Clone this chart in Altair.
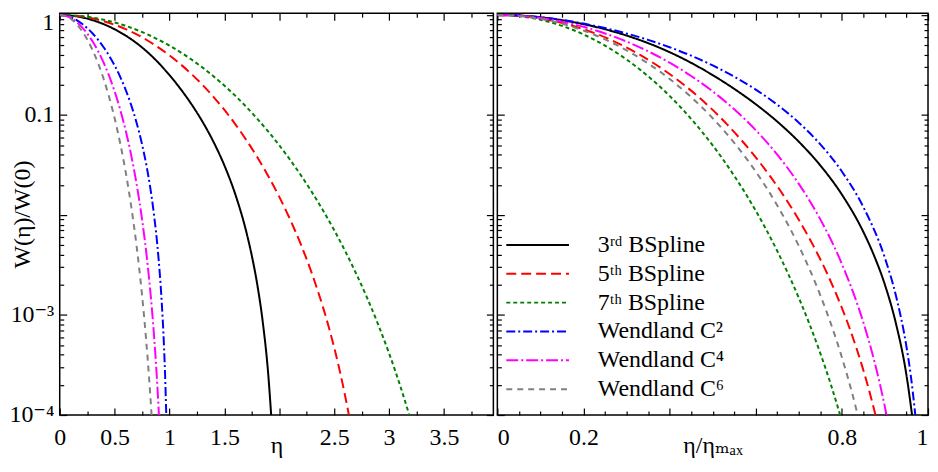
import altair as alt
import pandas as pd

FONT = "Liberation Serif, DejaVu Serif, serif"

SERIES = ["3ʳᵈ BSpline", "5ᵗʰ BSpline", "7ᵗʰ BSpline",
          "Wendland C²", "Wendland C⁴", "Wendland C⁶"]
COLORS = ["#000000", "#ff0000", "#008000", "#0000ff", "#ff00ff", "#808080"]
DASHES = [[1, 0], [10, 5], [4, 3], [9, 3, 2, 3], [12, 3, 2, 3], [6, 5]]

# ---- values (y = W(eta)/W(0)) ----
b3_y = [1, 0.98575, 0.946, 0.88525, 0.808, 0.71875, 0.622, 0.52225, 0.424, 0.33175, 0.25,
        0.18225, 0.128, 0.08575, 0.054, 0.03125, 0.016, 0.00675, 0.0039, 0.002, 0.00084,
        0.00025, 0.0001]
b3_xl = [0, 0.1, 0.2, 0.3, 0.4, 0.5, 0.6, 0.7, 0.8, 0.9, 1.0, 1.1, 1.2, 1.3, 1.4, 1.5, 1.6,
         1.7, 1.75, 1.8, 1.85, 1.9, 1.926]
b3_xr = [0, 0.05, 0.1, 0.15, 0.2, 0.25, 0.3, 0.35, 0.4, 0.45, 0.5, 0.55, 0.6, 0.65, 0.7,
         0.75, 0.8, 0.85, 0.875, 0.9, 0.925, 0.95, 0.963]

b5_y = [1, 0.96431, 0.86463, 0.71985, 0.55472, 0.39394, 0.25651, 0.15181, 0.080558,
        0.037673, 0.024401, 0.015152, 0.0089468, 0.0049648, 0.0025465, 0.0011782,
        0.00076255, 0.00047348, 0.00027959, 0.00015515, 0.0001]
b5_xl = [0, 0.2, 0.4, 0.6, 0.8, 1.0, 1.2, 1.4, 1.6, 1.8, 1.9, 2.0, 2.1, 2.2, 2.3, 2.4, 2.45,
         2.5, 2.55, 2.6, 2.634]
b5_xr = [0, 0.0667, 0.1333, 0.2, 0.2667, 0.3333, 0.4, 0.4667, 0.5333, 0.6, 0.6333, 0.6667,
         0.7, 0.7333, 0.7667, 0.8, 0.8167, 0.8333, 0.85, 0.8667, 0.878]

b7_y = [1, 0.97255, 0.89446, 0.77741, 0.63775, 0.49296, 0.35819, 0.24388, 0.15495,
        0.091379, 0.049669, 0.024646, 0.011018, 0.0043577, 0.0014831, 0.00080659,
        0.00041391, 0.00028905, 0.00019797, 0.0001]
b7_xl = [0, 0.2, 0.4, 0.6, 0.8, 1.0, 1.2, 1.4, 1.6, 1.8, 2.0, 2.2, 2.4, 2.6, 2.8, 2.9, 3.0,
         3.05, 3.1, 3.184]
b7_xr = [0, 0.05, 0.1, 0.15, 0.2, 0.25, 0.3, 0.35, 0.4, 0.45, 0.5, 0.55, 0.6, 0.65, 0.7,
         0.725, 0.75, 0.7625, 0.775, 0.796]

w2_x = [0, 0.05, 0.1, 0.15, 0.2, 0.25, 0.3, 0.35, 0.4, 0.45, 0.5, 0.55, 0.6, 0.65, 0.7,
        0.75, 0.8, 0.85, 0.9, 0.925, 0.95, 0.96, 0.9705]
w2_y = [1, 0.98598, 0.9477, 0.89048, 0.8192, 0.73828, 0.6517, 0.56298, 0.4752, 0.39098,
        0.3125, 0.24148, 0.1792, 0.12648, 0.0837, 0.050781, 0.0272, 0.011981, 0.0037,
        0.0015926, 0.00048125, 0.00024832, 0.0001]

w4_x = [0, 0.05, 0.1, 0.15, 0.2, 0.25, 0.3, 0.35, 0.4, 0.45, 0.5, 0.55, 0.6, 0.65, 0.7,
        0.75, 0.8, 0.85, 0.875, 0.9, 0.9037]
w4_y = [1, 0.9827, 0.93297, 0.85635, 0.76022, 0.65259, 0.54119, 0.43279, 0.33281, 0.2451,
        0.17188, 0.11386, 0.070451, 0.040074, 0.020461, 0.0090332, 0.0032384, 0.00083759,
        0.00035095, 0.0001198, 0.0001]

w6_x = [0, 0.05, 0.1, 0.15, 0.2, 0.25, 0.3, 0.35, 0.4, 0.45, 0.5, 0.55, 0.6, 0.65, 0.7,
        0.75, 0.8, 0.825, 0.8368]
w6_y = [1, 0.97776, 0.91403, 0.81695, 0.69793, 0.56939, 0.44282, 0.32737, 0.2291, 0.15089,
        0.092773, 0.052655, 0.027158, 0.012446, 0.0049017, 0.0015745, 0.00037775,
        0.00015833, 0.0001]

# axis tick values / labels
Y_LABELS = [1, 0.1, 0.001, 0.0001]
Y_TICKS = [m * 10.0 ** e for e in (-4, -3, -2, -1) for m in range(1, 10)] + [1]
XL_LABELS = [0, 0.5, 1, 1.5, 2.5, 3, 3.5]
XL_TICKS = [i * 0.25 for i in range(16)]
XR_LABELS = [0, 0.2, 0.8, 1]
XR_TICKS = [i * 0.05 for i in range(21)]


def frame(pairs):
    rows = []
    for name, xs, ys in pairs:
        for x, y in zip(xs, ys):
            rows.append({"x": x, "y": y, "series": name})
    return pd.DataFrame(rows)


left_df = frame([(SERIES[0], b3_xl, b3_y), (SERIES[1], b5_xl, b5_y), (SERIES[2], b7_xl, b7_y),
                 (SERIES[3], w2_x, w2_y), (SERIES[4], w4_x, w4_y), (SERIES[5], w6_x, w6_y)])
right_df = frame([(SERIES[0], b3_xr, b3_y), (SERIES[1], b5_xr, b5_y), (SERIES[2], b7_xr, b7_y),
                  (SERIES[3], w2_x, w2_y), (SERIES[4], w4_x, w4_y), (SERIES[5], w6_x, w6_y)])

H = 404
W_L = 436
W_R = 433
YDOM = [1e-4, 1.04]

Y_MAJOR = "abs(log(datum.value)/LN10 - round(log(datum.value)/LN10)) < 1e-6"


def tick_axis(orient, offset, values, major_test):
    return alt.Axis(orient=orient, offset=offset, values=values, labels=False, domain=False,
                    grid=False, title=None, tickColor="black", tickWidth=1.2, minExtent=0,
                    tickSize={"condition": {"test": major_test, "value": 7}, "value": 4})


def panel(df, xdom, xlabels, xticks, xmajor, width, xtitle, left, legend):
    xs = alt.Scale(domain=xdom, nice=False, zero=False)
    ys = alt.Scale(type="log", domain=YDOM, nice=False)
    if left:
        yaxis = alt.Axis(orient="left", values=Y_LABELS, ticks=False, domain=False, grid=False,
                         labelExpr="datum.value == 1 ? '1' : datum.value == 0.1 ? '0.1' : "
                                   "datum.value == 0.001 ? '10⁻³' : '10⁻⁴'",
                         labelFont=FONT, labelFontSize=24, labelColor="black", labelPadding=6,
                         labelBaseline={"condition": {"test": "datum.value == 1", "value": "top"},
                                        "value": "middle"},
                         labelOffset={"condition": {"test": "datum.value == 1", "value": -4},
                                      "value": 0},
                         title="W(η)/W(0)", titleFont=FONT, titleFontSize=24,
                         titleFontWeight="normal", titleColor="black",
                         titleX=-30, titleY=H / 2, titleAngle=-90, titleBaseline="alphabetic",
                         titleAlign="center", minExtent=0)
    else:
        yaxis = alt.Axis(orient="left", values=Y_LABELS, ticks=False, domain=False, grid=False,
                         labels=False, title=None, minExtent=0)
    xaxis = alt.Axis(orient="bottom", values=xlabels, ticks=False, domain=False, grid=False,
                     format="~g", labelFont=FONT, labelFontSize=24, labelColor="black",
                     labelPadding=11, labelFlush=not left, labelOverlap=False,
                     title=xtitle, titleFont=FONT, titleFontSize=24, titleFontWeight="normal",
                     titleColor="black", titleY=38, titleBaseline="alphabetic",
                     titleX=width / 2, titleAlign="center")
    if legend:
        leg = alt.Legend(orient="none", legendX=8, legendY=221, title=None, symbolType="stroke",
                         symbolSize=3969, symbolStrokeWidth=2, labelFont=FONT, labelFontSize=24,
                         labelColor="black", labelOffset=28, rowPadding=5, clipHeight=24,
                         labelLimit=400)
    else:
        leg = None
    lines = alt.Chart(df).mark_line(strokeWidth=2, interpolate="monotone", clip=True).encode(
        x=alt.X("x:Q", scale=xs, axis=xaxis),
        y=alt.Y("y:Q", scale=ys, axis=yaxis),
        color=alt.Color("series:N", scale=alt.Scale(domain=SERIES, range=COLORS), legend=leg,
                        sort=SERIES),
        strokeDash=alt.StrokeDash("series:N", scale=alt.Scale(domain=SERIES, range=DASHES),
                                  legend=leg, sort=SERIES),
        detail="series:N",
    )
    ticks_a = alt.Chart(df).mark_line(strokeOpacity=0).encode(
        x=alt.X("x:Q", scale=xs, axis=tick_axis("top", -H, xticks, xmajor)),
        y=alt.Y("y:Q", scale=ys, axis=tick_axis("right", -width, Y_TICKS, Y_MAJOR)),
        detail="series:N",
    )
    ticks_b = alt.Chart(df).mark_line(strokeOpacity=0).encode(
        x=alt.X("x:Q", scale=xs, axis=tick_axis("bottom", -H, xticks, xmajor)),
        y=alt.Y("y:Q", scale=ys, axis=tick_axis("left", -width, Y_TICKS, Y_MAJOR)),
        detail="series:N",
    )
    return alt.layer(lines, ticks_a, ticks_b).resolve_axis(
        x="independent", y="independent").properties(width=width, height=H)


left = panel(left_df, [0, 3.95], XL_LABELS, XL_TICKS,
             "abs(datum.value*2 - round(datum.value*2)) < 1e-6", W_L, "η", True, False)
right = panel(right_df, [0, 1], XR_LABELS, XR_TICKS,
              "abs(datum.value*5 - round(datum.value*5)) < 1e-6", W_R, "η/ηₘₐₓ", False, True)

chart = alt.hconcat(left, right, spacing=0).resolve_legend(
    color="independent", strokeDash="independent"
).configure_view(stroke="black", strokeWidth=1.5).properties(
    padding={"left": 0, "top": 0, "right": 0, "bottom": 0}, background="white"
)

chart.save("out.html", embed_options={"renderer": "svg", "actions": False})
